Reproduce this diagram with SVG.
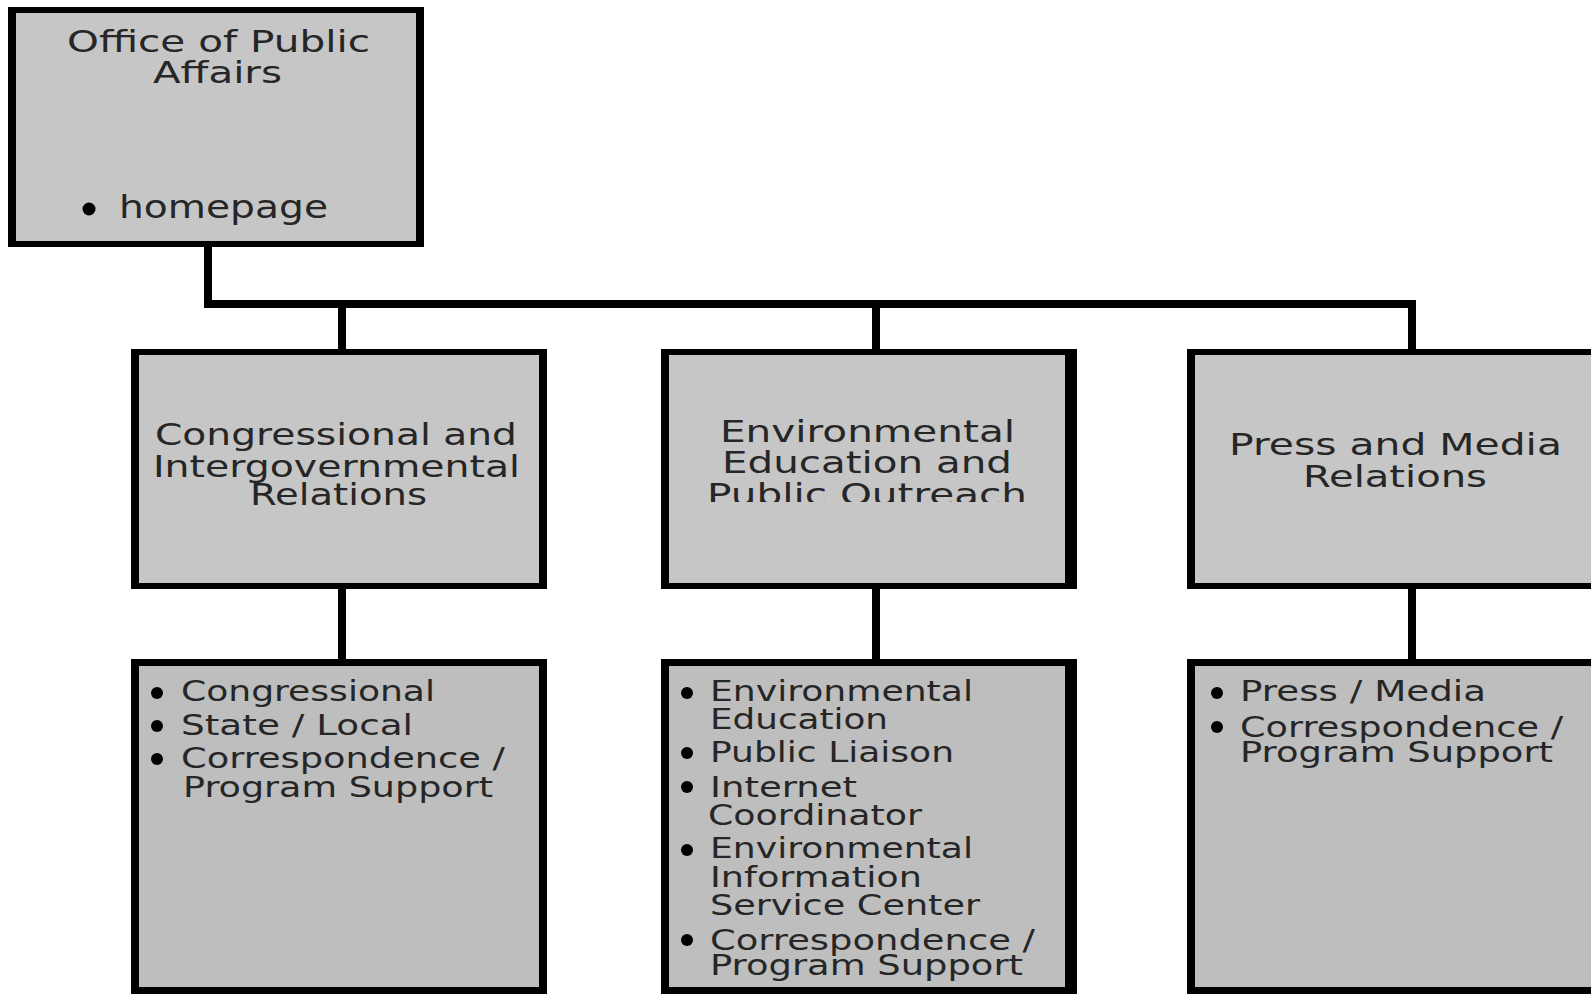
<svg xmlns="http://www.w3.org/2000/svg" width="1591" height="995" viewBox="0 0 1591 995">
<style>
.frame{fill:#000}
.top{fill:#c6c6c6}
.low{fill:#bebebe}
.t{font-family:"DejaVu Sans","Liberation Sans",sans-serif;fill:#262626;font-size:30px}
.l{font-family:"DejaVu Sans","Liberation Sans",sans-serif;fill:#262626;font-size:28px}
.b{fill:#000}
.c{fill:none;stroke:#000;stroke-width:8;stroke-linejoin:miter;stroke-linecap:butt}
</style>
<defs>
<clipPath id="clip3"><rect x="669" y="355" width="396" height="147"/></clipPath>
</defs>
<rect width="1591" height="995" fill="#fff"/>
<g id="connectors">
<path class="c" d="M208 245 V304 H1412 V352"/>
<path class="c" d="M342 304 V352"/>
<path class="c" d="M876 304 V352"/>
<path class="c" d="M342 587 V662"/>
<path class="c" d="M876 587 V662"/>
<path class="c" d="M1412 587 V662"/>
</g>
<g id="office">
<rect class="frame" x="8" y="7" width="416" height="240"/>
<rect class="top" x="16" y="13" width="400" height="228"/>
<text class="t" x="67" y="52" textLength="303" lengthAdjust="spacingAndGlyphs">Office of Public</text>
<text class="t" x="153" y="83" textLength="129" lengthAdjust="spacingAndGlyphs">Affairs</text>
<circle class="b" cx="89" cy="209" r="6.5"/>
<text class="t" x="119" y="218" textLength="209" lengthAdjust="spacingAndGlyphs" style="font-size:32px">homepage</text>
</g>
<g id="cir">
<rect class="frame" x="131" y="349" width="416" height="240"/>
<rect class="top" x="139" y="355" width="400" height="228"/>
<text class="t" x="155" y="445" textLength="362" lengthAdjust="spacingAndGlyphs">Congressional and</text>
<text class="t" x="153" y="477" textLength="367" lengthAdjust="spacingAndGlyphs">Intergovernmental</text>
<text class="t" x="250" y="505" textLength="177" lengthAdjust="spacingAndGlyphs">Relations</text>
</g>
<g id="eepo">
<rect class="frame" x="661" y="349" width="416" height="240"/>
<rect class="top" x="669" y="355" width="396" height="228"/>
<text class="t" x="720" y="442" textLength="295" lengthAdjust="spacingAndGlyphs">Environmental</text>
<text class="t" x="722" y="473" textLength="290" lengthAdjust="spacingAndGlyphs">Education and</text>
<text class="t" x="707" y="505" textLength="320" lengthAdjust="spacingAndGlyphs" clip-path="url(#clip3)">Public Outreach</text>
</g>
<g id="pmr">
<rect class="frame" x="1187" y="349" width="416" height="240"/>
<rect class="top" x="1195" y="355" width="400" height="228"/>
<text class="t" x="1229" y="455" textLength="333" lengthAdjust="spacingAndGlyphs">Press and Media</text>
<text class="t" x="1303" y="487" textLength="184" lengthAdjust="spacingAndGlyphs">Relations</text>
</g>
<g id="cir-list">
<rect class="frame" x="131" y="659" width="416" height="335"/>
<rect class="low" x="139" y="666" width="400" height="321"/>
<circle class="b" cx="157" cy="693" r="6"/>
<text class="l" x="181" y="701" textLength="254" lengthAdjust="spacingAndGlyphs">Congressional</text>
<circle class="b" cx="157" cy="726" r="6"/>
<text class="l" x="181" y="735" textLength="232" lengthAdjust="spacingAndGlyphs">State / Local</text>
<circle class="b" cx="157" cy="759" r="6"/>
<text class="l" x="181" y="768" textLength="324" lengthAdjust="spacingAndGlyphs">Correspondence /</text>
<text class="l" x="183" y="797" textLength="310" lengthAdjust="spacingAndGlyphs">Program Support</text>
</g>
<g id="eepo-list">
<rect class="frame" x="661" y="659" width="416" height="335"/>
<rect class="low" x="669" y="666" width="396" height="321"/>
<circle class="b" cx="687" cy="693" r="6"/>
<text class="l" x="710" y="701" textLength="263" lengthAdjust="spacingAndGlyphs">Environmental</text>
<text class="l" x="710" y="729" textLength="178" lengthAdjust="spacingAndGlyphs">Education</text>
<circle class="b" cx="687" cy="753" r="6"/>
<text class="l" x="710" y="762" textLength="244" lengthAdjust="spacingAndGlyphs">Public Liaison</text>
<circle class="b" cx="687" cy="787" r="6"/>
<text class="l" x="710" y="797" textLength="147" lengthAdjust="spacingAndGlyphs">Internet</text>
<text class="l" x="708" y="825" textLength="214" lengthAdjust="spacingAndGlyphs">Coordinator</text>
<circle class="b" cx="687" cy="850" r="6"/>
<text class="l" x="710" y="858" textLength="263" lengthAdjust="spacingAndGlyphs">Environmental</text>
<text class="l" x="710" y="887" textLength="212" lengthAdjust="spacingAndGlyphs">Information</text>
<text class="l" x="710" y="915" textLength="270" lengthAdjust="spacingAndGlyphs">Service Center</text>
<circle class="b" cx="687" cy="940" r="6"/>
<text class="l" x="710" y="950" textLength="325" lengthAdjust="spacingAndGlyphs">Correspondence /</text>
<text class="l" x="710" y="975" textLength="313" lengthAdjust="spacingAndGlyphs">Program Support</text>
</g>
<g id="pmr-list">
<rect class="frame" x="1187" y="659" width="416" height="335"/>
<rect class="low" x="1195" y="666" width="400" height="321"/>
<circle class="b" cx="1217" cy="693" r="6"/>
<text class="l" x="1240" y="701" textLength="246" lengthAdjust="spacingAndGlyphs">Press / Media</text>
<circle class="b" cx="1217" cy="727" r="6"/>
<text class="l" x="1240" y="737" textLength="323" lengthAdjust="spacingAndGlyphs">Correspondence /</text>
<text class="l" x="1240" y="762" textLength="313" lengthAdjust="spacingAndGlyphs">Program Support</text>
</g>
</svg>
